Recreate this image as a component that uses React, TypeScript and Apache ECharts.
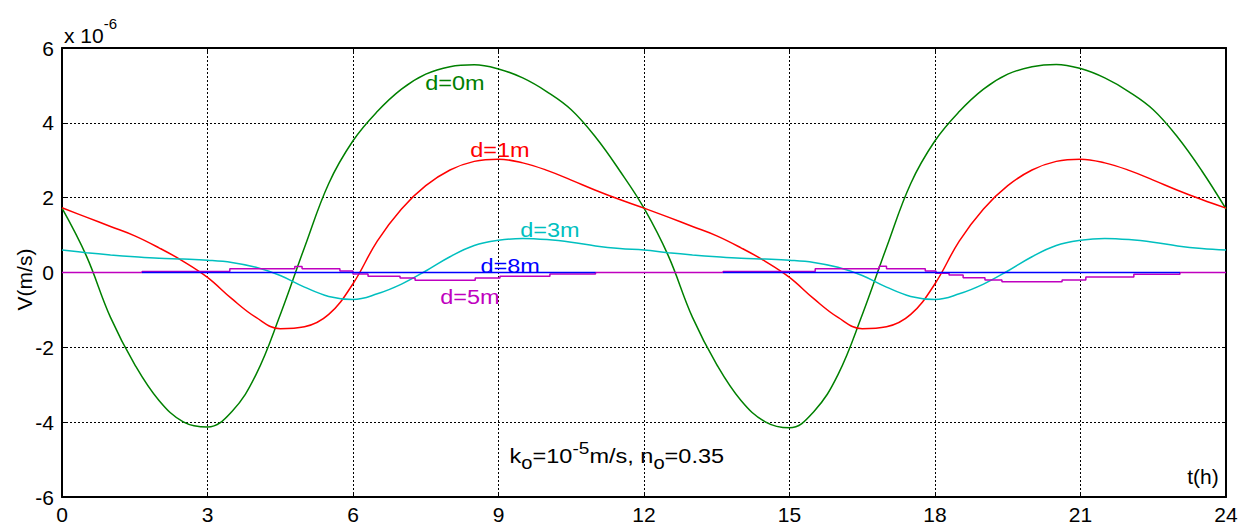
import React, { useEffect, useRef } from "react";
import * as echarts from "echarts";

// time (h)
const T = [0, 0.5, 1, 1.5, 2, 2.5, 3, 3.5, 4, 4.5, 5, 5.5, 6, 6.5, 7, 7.5, 8, 8.5, 9, 9.5, 10, 10.5, 11, 11.5, 12,
  12.5, 13, 13.5, 14, 14.5, 15, 15.5, 16, 16.5, 17, 17.5, 18, 18.5, 19, 19.5, 20, 20.5, 21, 21.5, 22, 22.5, 23, 23.5, 24];

// V (x 10^-6 m/s)
const D0 = [1.72, 0.45, -1.2, -2.46, -3.42, -3.99, -4.13, -3.72, -2.73, -1.13, 0.67, 2.38, 3.52, 4.3, 4.9, 5.3, 5.5, 5.55, 5.44, 5.2, 4.83, 4.35, 3.62, 2.72, 1.72,
  0.45, -1.2, -2.46, -3.42, -3.99, -4.15, -3.72, -2.73, -1.13, 0.67, 2.38, 3.52, 4.3, 4.9, 5.3, 5.5, 5.56, 5.45, 5.2, 4.83, 4.35, 3.62, 2.72, 1.7];
const D1 = [1.73, 1.48, 1.23, 0.98, 0.66, 0.3, -0.13, -0.7, -1.2, -1.5, -1.45, -1.12, -0.3, 0.84, 1.7, 2.32, 2.74, 2.97, 3.03, 2.93, 2.73, 2.47, 2.2, 1.95, 1.72,
  1.48, 1.23, 0.98, 0.66, 0.3, -0.13, -0.7, -1.2, -1.5, -1.45, -1.12, -0.3, 0.84, 1.7, 2.32, 2.74, 2.97, 3.03, 2.93, 2.73, 2.47, 2.2, 1.95, 1.72];
const D3 = [0.6, 0.53, 0.47, 0.42, 0.38, 0.36, 0.33, 0.27, 0.14, -0.08, -0.39, -0.64, -0.72, -0.57, -0.31, 0.04, 0.42, 0.72, 0.86, 0.91, 0.88, 0.81, 0.71, 0.64, 0.6,
  0.53, 0.47, 0.42, 0.38, 0.36, 0.33, 0.27, 0.14, -0.08, -0.39, -0.64, -0.72, -0.57, -0.31, 0.04, 0.42, 0.72, 0.86, 0.91, 0.88, 0.81, 0.71, 0.64, 0.6];

// d=5m: stepped values (value holds from time until next time)
const D5_T = [0, 1.65, 3.46, 4.8, 4.95, 5.73, 6.0, 6.31, 6.97, 7.28, 8.52, 9.03, 10.06, 11.0,
  13.63, 15.53, 16.85, 17.0, 17.8, 18.02, 18.29, 18.58, 19.03, 19.38, 20.62, 21.11, 22.1, 23.05, 24];
const D5_V = [0, 0.03, 0.1, 0.16, 0.1, 0.04, -0.04, -0.1, -0.15, -0.21, -0.15, -0.1, -0.04, 0,
  0.03, 0.1, 0.17, 0.1, 0.04, -0.02, -0.07, -0.14, -0.2, -0.25, -0.2, -0.12, -0.05, 0, 0];

// d=8m: practically zero where drawn
const D8_T = [1.65, 11.0, null, 13.63, 23.05];
const D8_V = [0, 0, null, 0, 0];

const FONT = "'Liberation Sans', Arial, Helvetica, sans-serif";

export default function App() {
  const ref = useRef<HTMLDivElement>(null);
  useEffect(() => {
    const chart = echarts.init(ref.current!, null, { renderer: "svg" });
    const pair = (xs: any[], ys: any[]) => xs.map((x, i) => (x === null ? [null, null] : [x, ys[i]]));
    const lw = 1.5;
    const axisCommon = {
      type: "value",
      axisLine: { show: true, onZero: false, lineStyle: { color: "#000", width: 2 } },
      axisTick: { show: true, inside: true, length: 4, lineStyle: { color: "#000", width: 1 } },
    };
    const curve = (name: string, data: number[], color: string) => ({
      name, type: "line", data: pair(T, data), showSymbol: false,
      smooth: 0.4,
      lineStyle: { color, width: lw }, itemStyle: { color },
    });
    chart.setOption({
      animation: false,
      grid: { left: 62, right: 24, top: 48, bottom: 28, containLabel: false },
      xAxis: [
        {
          ...axisCommon, min: 0, max: 24, interval: 3, position: "bottom",
          axisLabel: { color: "#000", fontSize: 21, fontFamily: FONT, margin: 7 },
          splitLine: { show: true, lineStyle: { color: "#000", type: [2, 2], width: 1 } },
        },
        {
          ...axisCommon, min: 0, max: 24, interval: 3, position: "top",
          axisLabel: { show: false }, splitLine: { show: false },
        },
      ],
      yAxis: [
        {
          ...axisCommon, min: -6, max: 6, interval: 2, position: "left",
          axisLabel: { color: "#000", fontSize: 21, fontFamily: FONT, margin: 8 },
          splitLine: { show: true, lineStyle: { color: "#000", type: [2, 2], width: 1 } },
        },
        {
          ...axisCommon, min: -6, max: 6, interval: 2, position: "right",
          axisLabel: { show: false }, splitLine: { show: false },
        },
      ],
      series: [
        curve("d=0m", D0, "#008000"),
        curve("d=1m", D1, "#ff0000"),
        curve("d=3m", D3, "#00bfbf"),
        { name: "d=5m", type: "line", data: pair(D5_T, D5_V), showSymbol: false, step: "end", lineStyle: { color: "#bf00bf", width: lw }, itemStyle: { color: "#bf00bf" } },
        { name: "d=8m", type: "line", data: pair(D8_T, D8_V), showSymbol: false, connectNulls: false, lineStyle: { color: "#0000ff", width: lw }, itemStyle: { color: "#0000ff" } },
      ],
    });

    const px = (t: number, v: number) => chart.convertToPixel({ xAxisIndex: 0, yAxisIndex: 0 }, [t, v]) as number[];
    const label = (txt: string, t: number, v: number, color: string) => {
      const p = px(t, v);
      return {
        type: "text", x: p[0], y: p[1], scaleX: 1.12,
        style: { text: txt, fill: color, font: `21px ${FONT}`, textAlign: "center", textVerticalAlign: "middle" },
      };
    };
    const pk = px(11.44, -4.9);
    const pt = px(23.85, -5.45);
    const ptop = px(0, 6);
    const pmid = px(0, 0);
    chart.setOption({
      graphic: [
        label("d=0m", 8.1, 5.07, "#008000"),
        label("d=1m", 9.03, 3.27, "#ff0000"),
        label("d=3m", 10.06, 1.14, "#00bfbf"),
        label("d=8m", 9.24, 0.17, "#0000ff"),
        label("d=5m", 8.41, -0.65, "#bf00bf"),
        {
          type: "text", x: pk[0], y: pk[1], scaleX: 1.12,
          style: {
            text: "{a|k}{s|o}{a|=10}{p|-5}{a|m/s, n}{s|o}{a|=0.35}",
            textAlign: "center", textVerticalAlign: "middle",
            rich: {
              a: { fontSize: 21, fontFamily: FONT, fill: "#000", color: "#000", lineHeight: 34, verticalAlign: "middle" },
              s: { fontSize: 18, fontFamily: FONT, fill: "#000", color: "#000", lineHeight: 34, verticalAlign: "bottom", padding: [0, 0, 1, 0] },
              p: { fontSize: 17, fontFamily: FONT, fill: "#000", color: "#000", lineHeight: 34, verticalAlign: "top", padding: [1, 0, 0, 0] },
            },
          },
        },
        {
          type: "text", x: pt[0], y: pt[1],
          style: { text: "t(h)", fill: "#000", font: `21px ${FONT}`, textAlign: "right", textVerticalAlign: "middle" },
        },
        {
          type: "text", x: ptop[0] + 2, y: ptop[1] - 17,
          style: {
            text: "{a|x 10}{p|-6}",
            textAlign: "left", textVerticalAlign: "middle",
            rich: {
              a: { fontSize: 21, fontFamily: FONT, color: "#000", fill: "#000", lineHeight: 30, verticalAlign: "bottom" },
              p: { fontSize: 15, fontFamily: FONT, color: "#000", fill: "#000", lineHeight: 30, verticalAlign: "top" },
            },
          },
        },
        {
          type: "text", x: 24, y: pmid[1] + 7, rotation: Math.PI / 2,
          style: { text: "V(m/s)", fill: "#000", font: `21px ${FONT}`, textAlign: "center", textVerticalAlign: "middle" },
        },
      ],
    });
    return () => chart.dispose();
  }, []);
  return <div ref={ref} style={{ position: "absolute", left: 0, top: 0, width: 1250, height: 525 }} />;
}
